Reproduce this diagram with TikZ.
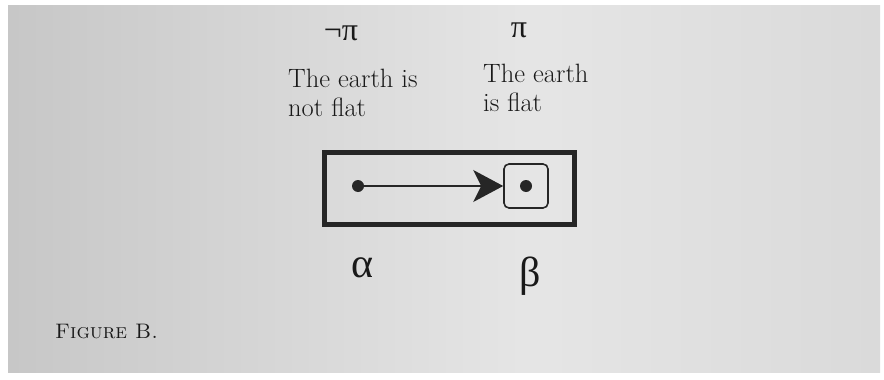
\documentclass[tikz,border=0pt]{standalone}
\usepackage{fontspec}
\usetikzlibrary{arrows.meta}
\newfontfamily\greekfont{Liberation Serif}
\pgfdeclarehorizontalshading{pagelight}{100bp}{color(0bp)=(black!34); color(10bp)=(black!28); color(55bp)=(black!10); color(90bp)=(black!18); color(100bp)=(black!26)}

\tikzset{
  dot/.style={circle,fill=black!85,inner sep=0pt,minimum size=12pt},
  world/.style={draw=black!85,line width=5pt},
  cell/.style={draw=black!85,line width=1.6pt,rounded corners=5pt,minimum size=44pt,inner sep=0pt},
  prop/.style={font=\fontsize{26.5}{29}\selectfont,align=left,anchor=north west,inner sep=0pt,text=black!90},
  sym/.style={font=\greekfont\fontsize{32}{32}\selectfont,text=black!90,inner sep=0pt},
  bigsym/.style={sym,font=\greekfont\fontsize{42}{42}\selectfont}
}

\begin{document}
\begin{tikzpicture}[x=1pt,y=-1pt,>=Stealth]
  \useasboundingbox (0,0) rectangle (884,380);
  \shade[shading=pagelight] (8,5) rectangle (880,372);
  % propositions
  \node[sym] (negpi) at (341,33) {¬π};
  \node[sym] (pi) at (519,30) {π};
  \node[prop] (notflat) at (288,69) {The earth is\\not flat};
  \node[prop] (flat) at (483,64) {The earth\\is flat};
  % the box with the two worlds
  \draw[world] (324,152) rectangle (574,224);
  \node[dot] (a) at (358,186) {};
  \node[cell] (bbox) at (526,186) {};
  \node[dot] (b) at (bbox.center) {};
  \draw[-{Stealth[length=30pt,width=32pt,inset=8pt]},line width=1.3pt,black!85] (a) -- (bbox.west);
  \node[bigsym] (alpha) at (362,268) {α};
  \node[bigsym] (beta) at (530,276) {β};
  \node[font=\fontsize{21}{21}\selectfont,text=black!90,anchor=base west,inner sep=0pt] (fig) at (55,338) {\textsc{Figure B.}};
\end{tikzpicture}
\end{document}
